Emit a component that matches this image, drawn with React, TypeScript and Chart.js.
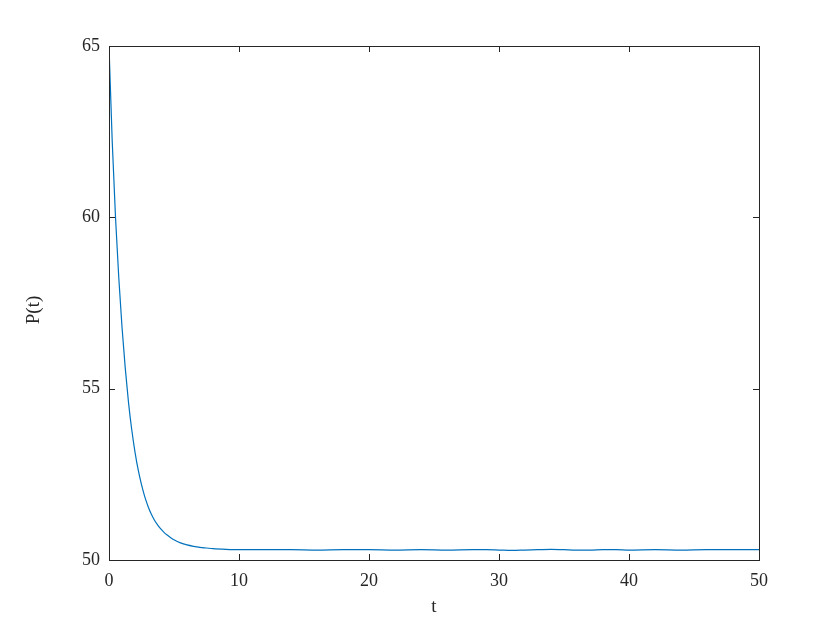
import React, { useEffect, useRef } from "react";
import { Chart, registerables } from "chart.js";

Chart.register(...registerables);

const tValues = [
  0, 0.25, 0.5, 0.75, 1, 1.25, 1.5, 1.75, 2, 2.25, 2.5, 2.75, 3, 3.25, 3.5, 3.75, 4, 4.25, 4.5, 4.75, 5, 5.5, 6,
  6.5, 7, 7.5, 8, 9, 10, 12, 14, 16, 18, 20, 22, 24, 26, 28, 29, 30, 31, 32, 33, 34, 35, 36, 37, 38, 39, 40, 42,
  44, 46, 48, 50,
];
const pValues = [
  65, 62.2, 60.0, 58.25, 56.8, 55.6, 54.6, 53.8, 53.15, 52.62, 52.2, 51.85, 51.57, 51.34, 51.16, 51.02, 50.9,
  50.8, 50.72, 50.65, 50.59, 50.5, 50.44, 50.4, 50.37, 50.35, 50.33, 50.31, 50.3, 50.3, 50.3, 50.29, 50.3,
  50.3, 50.29, 50.3, 50.29, 50.3, 50.3, 50.29, 50.28, 50.29, 50.3, 50.31, 50.3, 50.29, 50.29, 50.3, 50.3, 50.29,
  50.3, 50.29, 50.3, 50.3, 50.3,
];
const xTicks = [0, 10, 20, 30, 40, 50];
const yTicks = [50, 55, 60, 65];
const xLabel = "t";
const yLabel = "P(t)";

const AXIS_COLOR = "#262626";
const FONT = "'Liberation Serif', 'Times New Roman', serif";

const boxPlugin = {
  id: "matlabBox",
  afterDraw(chart: any) {
    const { ctx, chartArea } = chart;
    const xs = chart.scales.x;
    const ys = chart.scales.y;
    const len = 6;
    ctx.save();
    ctx.strokeStyle = AXIS_COLOR;
    ctx.lineWidth = 1;
    ctx.strokeRect(chartArea.left + 0.5, chartArea.top + 0.5, chartArea.right - chartArea.left, chartArea.bottom - chartArea.top);
    ctx.beginPath();
    xTicks.forEach((v) => {
      const px = Math.round(xs.getPixelForValue(v)) + 0.5;
      ctx.moveTo(px, chartArea.bottom);
      ctx.lineTo(px, chartArea.bottom - len);
      ctx.moveTo(px, chartArea.top);
      ctx.lineTo(px, chartArea.top + len);
    });
    yTicks.forEach((v) => {
      const py = Math.round(ys.getPixelForValue(v)) + 0.5;
      ctx.moveTo(chartArea.left, py);
      ctx.lineTo(chartArea.left + len, py);
      ctx.moveTo(chartArea.right, py);
      ctx.lineTo(chartArea.right - len, py);
    });
    ctx.stroke();
    // y-axis label
    const cy = (chartArea.top + chartArea.bottom) / 2 + 7;
    ctx.translate(34, cy);
    ctx.rotate(-Math.PI / 2);
    ctx.fillStyle = AXIS_COLOR;
    ctx.font = `19px ${FONT}`;
    ctx.textAlign = "center";
    ctx.textBaseline = "middle";
    ctx.fillText(yLabel, 0, 0);
    ctx.restore();
  },
};

export default function App() {
  const ref = useRef<HTMLCanvasElement | null>(null);
  useEffect(() => {
    document.body.style.margin = "0";
    const canvas = ref.current!;
    const chart = new Chart(canvas, {
      type: "line",
      data: {
        datasets: [
          {
            data: tValues.map((t, i) => ({ x: t, y: pValues[i] })),
            borderColor: "#0072BD",
            borderWidth: 1.2,
            pointRadius: 0,
            cubicInterpolationMode: "monotone",
            fill: false,
          },
        ],
      },
      options: {
        animation: false,
        responsive: false,
        layout: { padding: { left: 0, top: 46, right: 81, bottom: 0 } },
        plugins: { legend: { display: false }, tooltip: { enabled: false } },
        scales: {
          x: {
            type: "linear",
            min: 0,
            max: 50,
            afterFit: (s: any) => {
              s.height = 70;
            },
            afterBuildTicks: (s: any) => {
              s.ticks = xTicks.map((v) => ({ value: v }));
            },
            grid: { display: false, drawTicks: false },
            border: { display: false },
            ticks: { color: AXIS_COLOR, font: { family: FONT, size: 18 }, padding: 10, maxRotation: 0 },
            title: { display: true, text: xLabel, color: AXIS_COLOR, font: { family: FONT, size: 19 }, padding: { top: 0, bottom: 12 } },
          },
          y: {
            type: "linear",
            min: 50,
            max: 65,
            afterFit: (s: any) => {
              s.width = 109;
            },
            afterBuildTicks: (s: any) => {
              s.ticks = yTicks.map((v) => ({ value: v }));
            },
            grid: { display: false, drawTicks: false },
            border: { display: false },
            ticks: { color: AXIS_COLOR, font: { family: FONT, size: 18 }, padding: 9 },
          },
        },
      },
      plugins: [boxPlugin],
    } as any);
    return () => chart.destroy();
  }, []);
  return (
    <div style={{ position: "absolute", left: 0, top: 0, width: 840, height: 630, background: "#fff" }}>
      <canvas ref={ref} width={840} height={630} />
    </div>
  );
}
